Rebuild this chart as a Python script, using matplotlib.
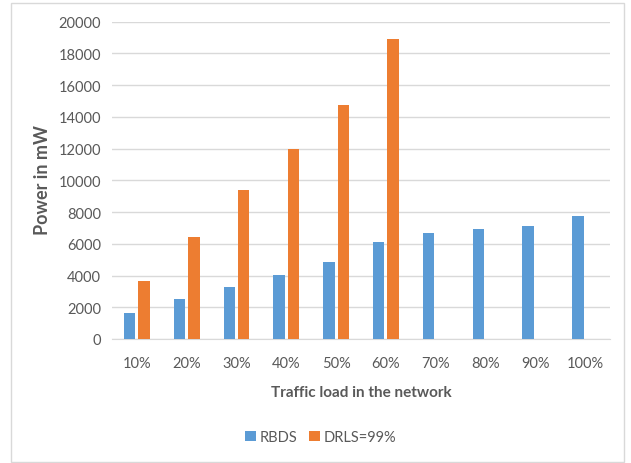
import numpy as np
import matplotlib.pyplot as plt
from matplotlib.patches import Rectangle

categories = ["10%", "20%", "30%", "40%", "50%", "60%", "70%", "80%", "90%", "100%"]
rbds = [1650, 2500, 3300, 4050, 4850, 6100, 6650, 6950, 7100, 7750]
drls = [3650, 6400, 9400, 12000, 14750, 18900, np.nan, np.nan, np.nan, np.nan]
yticks = [0, 2000, 4000, 6000, 8000, 10000, 12000, 14000, 16000, 18000, 20000]

plt.rcParams['font.family'] = ['Lato', 'DejaVu Sans']
W, H = 631, 464
fig = plt.figure(figsize=(W / 100, H / 100), dpi=100)
fig.patches.append(Rectangle((11 / W, 1 - 463 / H), (624 - 11) / W, (463 - 4) / H,
                             transform=fig.transFigure, fill=False,
                             edgecolor='#d9d9d9', linewidth=1))

ax = fig.add_axes([112 / W, 1 - 340 / H, (610 - 112) / W, (340 - 22.7) / H])
x = np.arange(len(categories))
off, w = 0.145, 0.23
ax.bar(x - off, rbds, width=w, color='#5b9bd5', label='RBDS', zorder=3)
ax.bar(x + off, drls, width=w, color='#ed7d31', label='DRLS=99%', zorder=3)

ax.set_xlim(-0.5, len(categories) - 0.5)
ax.set_ylim(0, 20000)
ax.set_yticks(yticks)
ax.set_xticks(x)
ax.set_xticklabels(categories)
ax.grid(axis='y', color='#d9d9d9', linewidth=1, zorder=0)
for s in ['top', 'right', 'left']:
    ax.spines[s].set_visible(False)
ax.spines['bottom'].set_color('#d9d9d9')
ax.tick_params(length=0, labelsize=10.5, colors='#595959')
ax.tick_params(axis='x', pad=12)
ax.tick_params(axis='y', pad=8)

fig.text(42 / W, 1 - 180 / H, 'Power in mW', rotation=90, ha='center', va='center',
         fontsize=13, fontweight='bold', color='#595959')
fig.text(361 / W, 1 - 393 / H, 'Traffic load in the network', ha='center', va='center',
         fontsize=11, fontweight='bold', color='#595959')

handles, labels = ax.get_legend_handles_labels()
fig.legend(handles, labels, loc='center', bbox_to_anchor=(321 / W, 1 - 438 / H), ncol=2,
           frameon=False, fontsize=10.5, handlelength=0.7, handleheight=0.7,
           handletextpad=0.3, columnspacing=0.8, labelcolor='#595959')

fig.savefig('out.png', dpi=100)
